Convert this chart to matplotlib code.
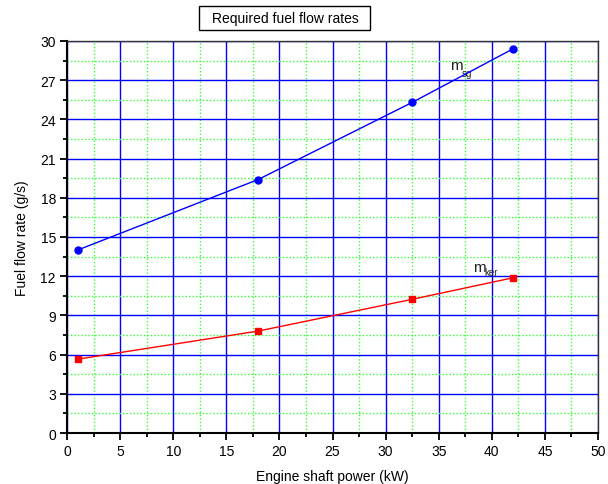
import matplotlib.pyplot as plt
from matplotlib.patches import Rectangle
from matplotlib.ticker import MultipleLocator

plt.rcParams["font.family"] = ["Liberation Sans", "DejaVu Sans"]

# engine shaft power (kW)
power = [1, 18, 32.5, 42]
# fuel flow rates (g/s)
flow_sg = [14.0, 19.4, 25.3, 29.4]
flow_ker = [5.65, 7.8, 10.23, 11.88]


def main():
    W, H = 608, 485
    fig = plt.figure(figsize=(W / 100, H / 100), dpi=100)
    ax = fig.add_axes([67 / W, 1 - 434 / H, 531 / W, 392 / H])

    ax.plot(power, flow_sg, color="#0000ff", lw=1, marker="o", ms=5, zorder=5)
    ax.plot(power, flow_ker, color="#ff0000", lw=1, marker="s", ms=5, zorder=5)

    ax.set_xlim(0, 50)
    ax.set_ylim(0, 30)
    ax.xaxis.set_major_locator(MultipleLocator(5))
    ax.xaxis.set_minor_locator(MultipleLocator(2.5))
    ax.yaxis.set_major_locator(MultipleLocator(3))
    ax.yaxis.set_minor_locator(MultipleLocator(1.5))

    ax.grid(which="major", color="#0000ff", lw=1, ls="-")
    ax.grid(which="minor", color="#33ff33", lw=1, ls=(0, (1, 1.5)))
    ax.set_axisbelow(True)

    ax.tick_params(which="major", direction="out", length=5, width=1.3,
                   labelsize=10, pad=3)
    ax.tick_params(which="minor", direction="out", length=3, width=1.3)
    for side in ("left", "bottom"):
        ax.spines[side].set_linewidth(1.5)
    for side in ("top", "right"):
        ax.spines[side].set_linewidth(1)
        ax.spines[side].set_color("#333333")

    ax.set_xlabel("Engine shaft power (kW)", fontsize=10, labelpad=8)
    ax.set_ylabel("Fuel flow rate (g/s)", fontsize=10, labelpad=8)

    ax.text(36.1, 27.85, "m", fontsize=11, color="#222222")
    ax.text(37.2, 27.3, "sg", fontsize=7, color="#222222")
    ax.text(38.2, 12.4, "m", fontsize=11, color="#222222")
    ax.text(39.3, 12.1, "ker", fontsize=7, color="#222222")

    # title box
    fig.patches.append(Rectangle((199 / W, 1 - 31 / H), 171 / W, 24 / H,
                                 transform=fig.transFigure, fc="white",
                                 ec="black", lw=1))
    fig.text(285 / W, 1 - 19 / H, "Required fuel flow rates", fontsize=10,
             ha="center", va="center")

    fig.savefig("out.png", dpi=100)


if __name__ == "__main__":
    main()
